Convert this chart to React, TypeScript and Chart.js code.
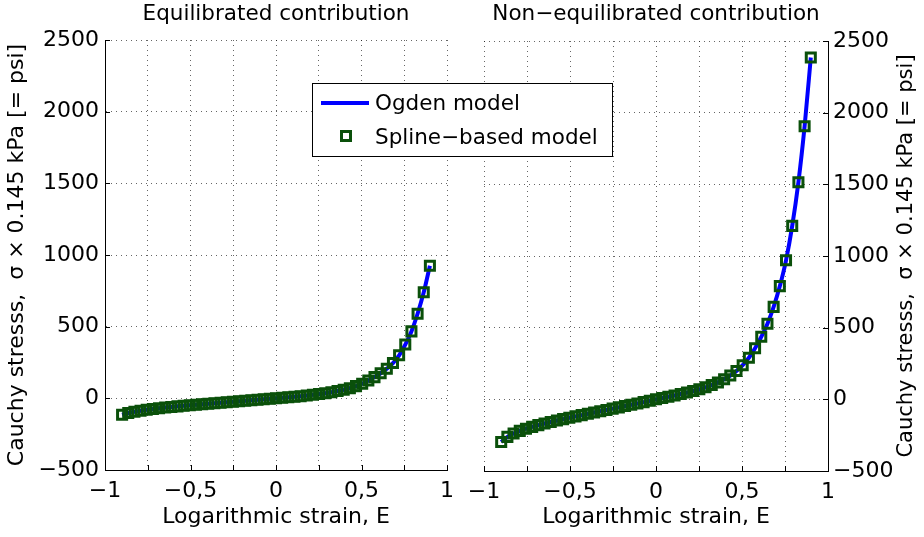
import React, { useEffect, useRef } from "react";
import { Chart, registerables } from "chart.js";

Chart.register(...registerables);

// ---------- data ----------
const strain = [
  -0.9, -0.864, -0.828, -0.792, -0.756, -0.72, -0.684, -0.648, -0.612, -0.576,
  -0.54, -0.504, -0.468, -0.432, -0.396, -0.36, -0.324, -0.288, -0.252, -0.216,
  -0.18, -0.144, -0.108, -0.072, -0.036, 0, 0.036, 0.072, 0.108, 0.144,
  0.18, 0.216, 0.252, 0.288, 0.324, 0.36, 0.396, 0.432, 0.468, 0.504,
  0.54, 0.576, 0.612, 0.648, 0.684, 0.72, 0.756, 0.792, 0.828, 0.864, 0.9,
];

const equilibratedStress = [
  -115, -103, -94, -86, -80, -74, -69, -64.5, -60, -56,
  -52, -48, -44.5, -41, -37.5, -34, -31, -27.5, -24, -21,
  -17.5, -14, -10.5, -7, -3.5, 0, 3.5, 7, 11, 15,
  20, 25, 30, 36, 43, 51, 60, 71, 85, 102,
  124, 148, 175, 207, 246, 300, 375, 467, 590, 740, 925,
];

const nonEquilibratedStress = [
  -298, -262, -238, -220, -205, -192, -180, -169, -158, -148,
  -138, -128, -119, -110, -101, -92, -83, -74, -65, -56,
  -47, -38, -29, -19.5, -10, 0, 9, 18, 27, 37,
  47, 58, 70, 84, 100, 118, 140, 166, 198, 238,
  290, 357, 436, 528, 645, 790, 970, 1210, 1515, 1905, 2385,
];

const xLabelledTicks = [-1, -0.5, 0, 0.5, 1];
const yTicks = [-500, 0, 500, 1000, 1500, 2000, 2500];
const panelTitles = ["Equilibrated contribution", "Non\u2212equilibrated contribution"];
const xAxisTitle = "Logarithmic strain, E";
const yAxisTitle = "Cauchy stresss,  \u03c3 \u00d7 0.145 kPa [= psi]";
const legendLabels = ["Ogden model", "Spline\u2212based model"];

// ---------- styling ----------
const FONT = "'DejaVu Sans', sans-serif";
const BLUE = "#0000ff";
const GREEN = "#0a500a";
const GRID = "rgba(0,0,0,0.6)";
const W = 924;
const H = 537;
const RIGHT_OFFSET = 300; // left edge of the right canvas

function fmt(v: number): string {
  const s = String(Math.abs(v)).replace(".", ",");
  return v < 0 ? "\u2212" + s : s;
}

const inwardTicks = {
  id: "inwardTicks",
  afterDatasetsDraw(chart: any, _args: any, opts: any) {
    const { ctx, chartArea } = chart;
    const xs = chart.scales.x;
    const ys = chart.scales.y;
    ctx.save();
    ctx.strokeStyle = "#000";
    ctx.lineWidth = 1;
    ctx.beginPath();
    xs.ticks.forEach((t: any) => {
      const px = Math.round(xs.getPixelForValue(t.value)) + 0.5;
      ctx.moveTo(px, chartArea.bottom);
      ctx.lineTo(px, chartArea.bottom - 5);
    });
    ys.ticks.forEach((t: any) => {
      const py = Math.round(ys.getPixelForValue(t.value)) + 0.5;
      if (opts.side === "left") {
        ctx.moveTo(chartArea.left, py);
        ctx.lineTo(chartArea.left + 5, py);
      } else {
        ctx.moveTo(chartArea.right, py);
        ctx.lineTo(chartArea.right - 5, py);
      }
    });
    ctx.stroke();
    ctx.restore();
  },
};

const rightExtras = {
  id: "rightExtras",
  afterDraw(chart: any) {
    const { ctx } = chart;
    const ys = chart.scales.y;
    // right y-axis title, reading bottom to top
    ctx.save();
    ctx.fillStyle = "#000";
    ctx.font = `21px ${FONT}`;
    ctx.textAlign = "center";
    ctx.textBaseline = "middle";
    ctx.translate(906.5 - RIGHT_OFFSET, (ys.top + ys.bottom) / 2);
    ctx.rotate(-Math.PI / 2);
    ctx.fillText(yAxisTitle, 0, 0);
    ctx.restore();

    // legend
    const bx = 312 - RIGHT_OFFSET;
    ctx.save();
    ctx.fillStyle = "#fff";
    ctx.fillRect(bx + 0.5, 83.5, 300, 73);
    ctx.strokeStyle = "#000";
    ctx.lineWidth = 1;
    ctx.strokeRect(bx + 0.5, 83.5, 300, 73);
    ctx.strokeStyle = BLUE;
    ctx.lineWidth = 4;
    ctx.beginPath();
    ctx.moveTo(bx + 9, 103);
    ctx.lineTo(bx + 57, 103);
    ctx.stroke();
    ctx.strokeStyle = GREEN;
    ctx.lineWidth = 3;
    ctx.strokeRect(bx + 34 - 4.5, 136 - 4.5, 9, 9);
    ctx.fillStyle = "#000";
    ctx.font = `21.5px ${FONT}`;
    ctx.textAlign = "left";
    ctx.textBaseline = "middle";
    ctx.fillText(legendLabels[0], bx + 63, 104);
    ctx.fillText(legendLabels[1], bx + 63, 138);
    ctx.restore();
  },
};

function makeConfig(side: "left" | "right", values: number[], title: string): any {
  const isLeft = side === "left";
  const points = strain.map((x, i) => ({ x, y: values[i] }));
  return {
    type: "line",
    data: {
      datasets: [
        {
          label: legendLabels[1],
          data: points,
          showLine: false,
          pointStyle: "rect",
          pointRadius: 6.4,
          pointBorderWidth: 3,
          pointBorderColor: GREEN,
          pointBackgroundColor: "rgba(0,0,0,0)",
          borderColor: GREEN,
          order: 0,
        },
        {
          label: legendLabels[0],
          data: points,
          borderColor: BLUE,
          borderWidth: 4,
          pointRadius: 0,
          cubicInterpolationMode: "monotone",
          fill: false,
          order: 1,
        },
      ],
    },
    options: {
      animation: false,
      responsive: false,
      devicePixelRatio: 1,
      layout: {
        padding: isLeft
          ? { left: 0, right: 12, top: 0, bottom: 0 }
          : { left: 184, right: 0, top: 0, bottom: 0 },
      },
      plugins: {
        legend: { display: false },
        tooltip: { enabled: false },
        title: {
          display: true,
          text: title,
          fullSize: false,
          color: "#000",
          font: { family: FONT, size: 21.5, weight: "normal" },
          padding: isLeft ? { top: 1.3, bottom: 12.9 } : { top: 1.3, bottom: 13.9 },
        },
        inwardTicks: { side },
      },
      scales: {
        x: {
          type: "linear",
          position: "bottom",
          min: -1,
          max: 1,
          afterFit: (s: any) => {
            s.height = isLeft ? 67 : 66;
          },
          ticks: {
            stepSize: 0.25,
            autoSkip: false,
            maxRotation: 0,
            padding: 8,
            color: "#000",
            font: { family: FONT, size: 22 },
            callback: (v: any) =>
              xLabelledTicks.some((t) => Math.abs(t - Number(v)) < 1e-9) ? fmt(Number(v)) : "",
          },
          grid: { color: GRID, lineWidth: 1, drawTicks: false },
          border: { display: true, color: "#000", width: 1, dash: [1, 4] },
          title: {
            display: true,
            text: xAxisTitle,
            color: "#000",
            font: { family: FONT, size: 22 },
            padding: { top: 0, bottom: 7 },
          },
        },
        y: {
          type: "linear",
          position: side,
          min: -500,
          max: 2500,
          afterBuildTicks: (s: any) => {
            s.ticks = yTicks.map((v) => ({ value: v }));
          },
          afterFit: (s: any) => {
            s.width = isLeft ? 105 : 96;
          },
          ticks: {
            padding: isLeft ? 6 : 5,
            color: "#000",
            font: { family: FONT, size: 22 },
            callback: (v: any) => fmt(Number(v)),
          },
          grid: { color: GRID, lineWidth: 1, drawTicks: false },
          border: { display: true, color: "#000", width: 1, dash: [1, 4] },
          title: {
            display: isLeft,
            text: yAxisTitle,
            color: "#000",
            font: { family: FONT, size: 22 },
            padding: { top: 4.3, bottom: 0 },
          },
        },
      },
    },
    plugins: isLeft ? [inwardTicks] : [inwardTicks, rightExtras],
  };
}

export default function App() {
  const leftRef = useRef<HTMLCanvasElement | null>(null);
  const rightRef = useRef<HTMLCanvasElement | null>(null);

  useEffect(() => {
    const c1 = new Chart(leftRef.current as HTMLCanvasElement, makeConfig("left", equilibratedStress, panelTitles[0]));
    const c2 = new Chart(rightRef.current as HTMLCanvasElement, makeConfig("right", nonEquilibratedStress, panelTitles[1]));
    return () => {
      c1.destroy();
      c2.destroy();
    };
  }, []);

  return (
    <div style={{ position: "fixed", left: 0, top: 0, width: W, height: H, background: "#fff", overflow: "hidden" }}>
      <canvas
        ref={leftRef}
        width={462}
        height={H}
        style={{ position: "absolute", left: 0, top: 0, width: 462, height: H }}
      />
      <canvas
        ref={rightRef}
        width={W - RIGHT_OFFSET}
        height={H}
        style={{ position: "absolute", left: RIGHT_OFFSET, top: 0, width: W - RIGHT_OFFSET, height: H }}
      />
    </div>
  );
}
